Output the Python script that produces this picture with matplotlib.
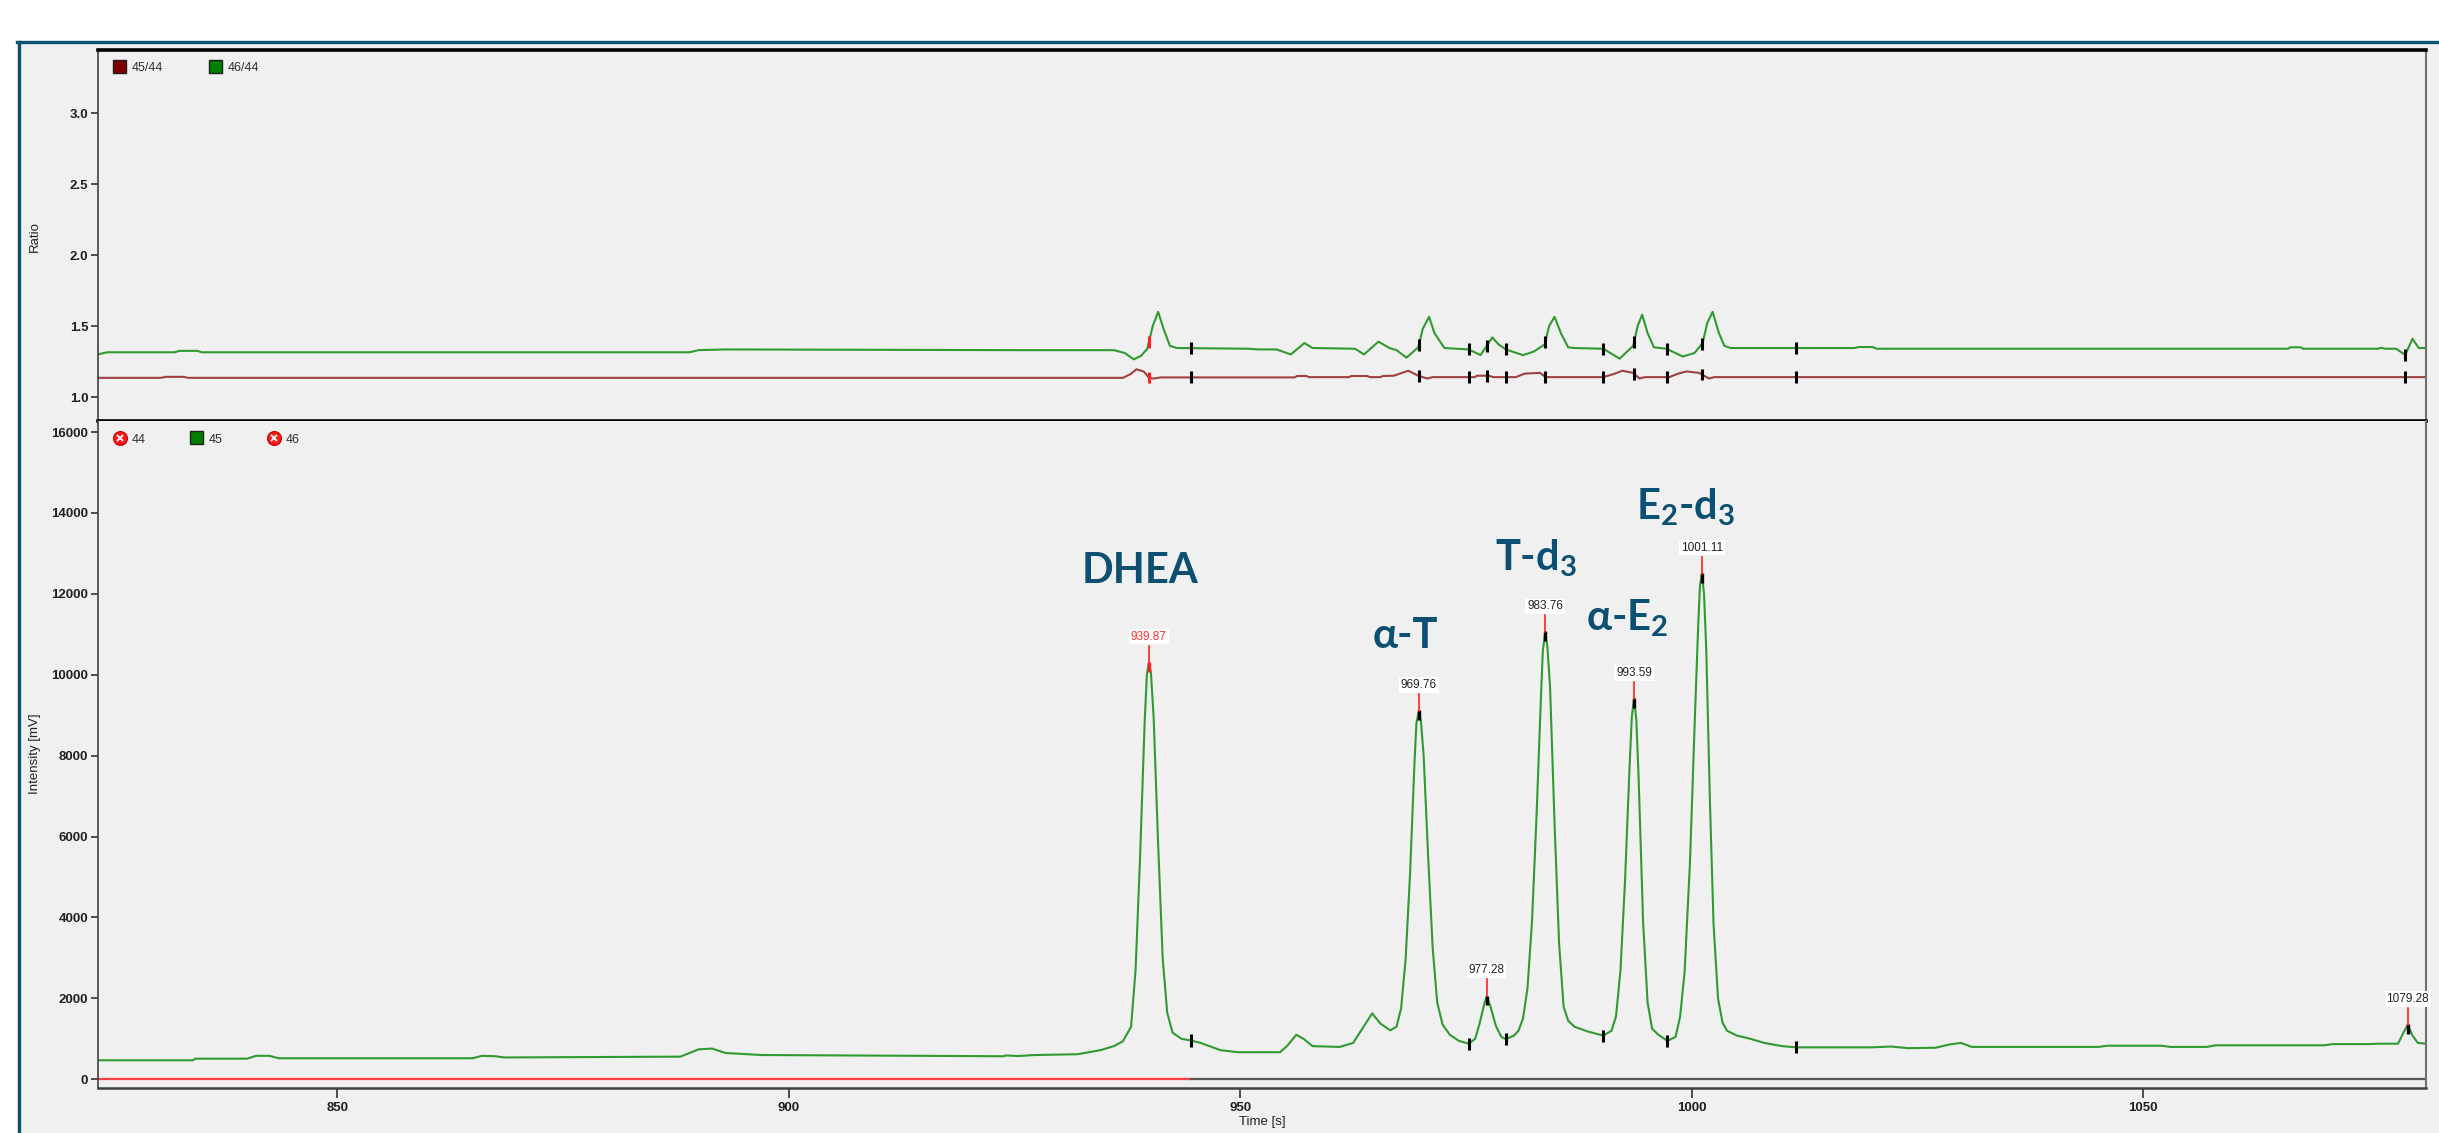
import numpy as np
import matplotlib
matplotlib.use("Agg")
from matplotlib import pyplot as plt
from matplotlib.patches import Rectangle
from matplotlib.lines import Line2D

plt.rcParams['font.family'] = ['Liberation Sans', 'DejaVu Sans']
plt.rcParams['mathtext.fontset'] = 'custom'
plt.rcParams['mathtext.rm'] = 'Lato:bold'
plt.rcParams['mathtext.it'] = 'Lato:bold'
plt.rcParams['mathtext.bf'] = 'Lato:bold'

# intensity trace, mass 45 [time s, mV]
t45 = [823.5, 834.0, 834.3, 840.0, 841.0, 842.5, 843.5, 865.0, 866.0, 867.5, 868.5, 888.0,
       890.0, 891.5, 893.0, 897.0, 923.8, 924.0, 925.4, 927.2, 932.0, 934.5, 936.0, 937.0,
       937.9, 938.4, 938.9, 939.4, 939.65, 939.87, 940.1, 940.4, 940.9, 941.4, 941.9, 942.5,
       943.5, 944.5, 945.6, 947.8, 949.7, 954.4, 955.2, 956.2, 957.0, 958.0, 961.0, 962.5,
       963.5, 964.6, 965.5, 966.6, 967.3, 967.8, 968.3, 968.8, 969.3, 969.5, 969.76, 970.0,
       970.3, 970.8, 971.3, 971.8, 972.4, 973.2, 974.2, 975.3, 976.0, 976.5, 977.0, 977.28,
       977.7, 978.3, 978.9, 979.4, 980.3, 980.8, 981.3, 981.8, 982.3, 982.8, 983.3, 983.5,
       983.76, 984.0, 984.3, 984.8, 985.3, 985.8, 986.3, 987.0, 988.5, 990.2, 991.1, 991.6,
       992.1, 992.6, 993.1, 993.35, 993.59, 993.85, 994.1, 994.6, 995.1, 995.6, 996.3, 997.3,
       998.2, 998.7, 999.2, 999.8, 1000.3, 1000.7, 1000.9, 1001.11, 1001.35, 1001.6, 1002.0,
       1002.4, 1002.9, 1003.4, 1003.9, 1005.0, 1006.5, 1008.0, 1010.0, 1011.5, 1020.0,
       1022.0, 1024.0, 1027.0, 1028.5, 1029.8, 1031.0, 1045.0, 1046.0, 1052.0, 1053.0,
       1057.0, 1058.0, 1070.0, 1071.0, 1075.0, 1076.0, 1078.2, 1078.8, 1079.28, 1079.8,
       1080.4, 1081.3]
i45 = [470, 470, 510, 510, 580, 580, 520, 520, 580, 570, 540, 560,
       740, 760, 650, 600, 570, 590, 575, 600, 620, 720, 820, 940,
       1300, 2700, 5500, 8800, 10000, 10300, 10050, 8950, 5800, 3000, 1650, 1150,
       1000, 960, 900, 720, 670, 670, 830, 1100, 1000, 820, 800, 900,
       1250, 1630, 1380, 1210, 1300, 1750, 2950, 5100, 7900, 8800, 9100, 8850,
       8000, 5500, 3250, 1900, 1350, 1100, 950, 880, 1000, 1380, 1850, 2050,
       1800, 1320, 1050, 990, 1080, 1200, 1500, 2250, 3900, 6500, 9500, 10600,
       11050, 10700, 9700, 6300, 3350, 1800, 1450, 1300, 1180, 1080, 1200, 1550,
       2700, 4900, 7700, 8950, 9400, 8900, 7500, 3900, 1900, 1250, 1100, 950,
       1050, 1550, 2650, 5400, 8700, 11200, 12200, 12500, 12000, 10600, 6900,
       3850, 2000, 1400, 1200, 1080, 1000, 900, 820, 790, 790,
       810, 770, 780, 860, 900, 800, 800, 830, 830, 800,
       800, 840, 840, 870, 870, 880, 880, 1150, 1350, 1080,
       900, 880]

# ratio traces [time s, ratio]
t4644 = [823.5, 824.5, 832.0, 832.5, 834.5, 835.0, 889.0, 890.0, 893.0, 925.0, 936.0, 937.2,
         938.2, 939.0, 939.7, 940.3, 940.9, 941.5, 942.2, 943.0, 950.9, 952.0, 954.0, 955.6,
         957.1, 958.0, 962.7, 963.7, 965.3, 966.5, 967.3, 968.4, 969.7, 970.2, 970.9, 971.5,
         972.6, 975.3, 976.6, 977.9, 978.6, 979.4, 981.3, 982.5, 983.7, 984.2, 984.8, 985.5,
         986.3, 987.0, 990.2, 992.0, 993.5, 994.0, 994.5, 995.1, 995.8, 997.2, 999.0, 1000.3,
         1001.2, 1001.7, 1002.3, 1003.0, 1003.6, 1004.3, 1018.0, 1018.5, 1020.0, 1020.5,
         1066.0, 1066.3, 1067.4, 1067.7, 1076.0, 1076.3, 1076.8, 1078.0, 1079.0, 1079.8,
         1080.5, 1081.3]
r4644 = [1.30, 1.315, 1.315, 1.325, 1.325, 1.315, 1.315, 1.33, 1.335, 1.33, 1.33, 1.31,
         1.265, 1.29, 1.34, 1.50, 1.60, 1.48, 1.36, 1.345, 1.34, 1.335, 1.335, 1.30,
         1.38, 1.345, 1.34, 1.30, 1.39, 1.345, 1.33, 1.277, 1.35, 1.48, 1.565, 1.45,
         1.345, 1.335, 1.295, 1.42, 1.37, 1.335, 1.295, 1.32, 1.37, 1.50, 1.565, 1.45,
         1.35, 1.345, 1.34, 1.27, 1.36, 1.50, 1.58, 1.45, 1.35, 1.34, 1.285, 1.31,
         1.38, 1.52, 1.60, 1.45, 1.36, 1.345, 1.345, 1.352, 1.352, 1.34,
         1.34, 1.35, 1.35, 1.34, 1.34, 1.347, 1.34, 1.34, 1.296, 1.41,
         1.345, 1.345]

t4544 = [823.5, 830.5, 831.0, 833.0, 833.5, 937.0, 937.8, 938.5, 939.3, 939.9, 940.4, 941.2,
         956.0, 956.3, 957.3, 957.6, 962.0, 962.3, 964.0, 964.4, 965.5, 965.8, 967.0, 968.6,
         969.7, 970.7, 971.3, 976.0, 976.2, 977.5, 978.0, 980.5, 981.5, 983.2, 983.8, 990.2,
         991.5, 992.3, 993.5, 994.2, 994.8, 997.5, 998.5, 999.4, 1000.8, 1001.9, 1002.5, 1081.3]
r4544 = [1.135, 1.135, 1.142, 1.142, 1.135, 1.135, 1.16, 1.195, 1.18, 1.135, 1.13, 1.138,
         1.138, 1.148, 1.148, 1.14, 1.14, 1.148, 1.148, 1.14, 1.14, 1.148, 1.15, 1.185,
         1.15, 1.13, 1.14, 1.14, 1.15, 1.15, 1.14, 1.14, 1.165, 1.17, 1.14, 1.14,
         1.165, 1.185, 1.17, 1.13, 1.14, 1.14, 1.165, 1.18, 1.17, 1.13, 1.14, 1.14]

# peak apexes (retention times) and boundaries
apex_t = [939.87, 969.76, 977.28, 983.76, 993.59, 1001.11, 1079.28]
apex_lbl = ['939.87', '969.76', '977.28', '983.76', '993.59', '1001.11', '1079.28']
bound_t = [944.5, 975.3, 979.4, 990.2, 997.3, 1011.5]

names = ['DHEA', r'α-T', r'T-d$_3$', r'α-E$_2$', r'E$_2$-d$_3$']
name_x = [938.9, 968.3, 982.7, 992.9, 999.3]
name_y = [12555, 10950, 12880, 11390, 14140]

W, H = 2439, 1133
def fx(x): return x / W
def fy(y): return 1 - y / H

green = '#2f9a2f'
fig = plt.figure(figsize=(W / 100, H / 100), dpi=100, facecolor='white')
fig.add_artist(Rectangle((fx(17), 0), 1 - fx(17), fy(41), transform=fig.transFigure,
                         facecolor='#f0f0f0', edgecolor='none', zorder=0))
fig.add_artist(Line2D([fx(17), 1], [fy(42), fy(42)], transform=fig.transFigure, color='#0d5473', lw=2.4))
fig.add_artist(Line2D([fx(18.5), fx(18.5)], [0, fy(42)], transform=fig.transFigure, color='#0d5473', lw=2.4))

ax1 = fig.add_axes([fx(98), fy(421), fx(2426) - fx(98), fy(50) - fy(421)])
ax2 = fig.add_axes([fx(98), fy(1088), fx(2426) - fx(98), fy(421) - fy(1088)])
for ax in (ax1, ax2):
    ax.set_facecolor('#f0f0f0')
    ax.set_xlim(823.5, 1081.3)
    ax.spines['left'].set_color('#404040')
    ax.spines['left'].set_linewidth(1.2)
    ax.spines['right'].set_color('#707070')
    ax.spines['right'].set_linewidth(1.5)
    ax.tick_params(axis='y', direction='out', length=5, width=1.2, color='#303030', pad=2)

# top: ratio
ax1.plot(t4544, r4544, color='#a04040', lw=1.5)
ax1.plot(t4644, r4644, color=green, lw=1.5)
for tt in apex_t[:-1] + bound_t + [1079.0]:
    col = '#ff2020' if tt == 939.87 else 'black'
    for tr, rr in ((t4644, r4644), (t4544, r4544)):
        v = np.interp(tt, tr, rr)
        ax1.plot([tt, tt], [v - 0.042, v + 0.042], color=col, lw=2.2, solid_capstyle='butt')
ax1.set_ylim(0.831, 3.444)
ax1.set_yticks([1.0, 1.5, 2.0, 2.5, 3.0])
ax1.set_yticklabels(['1.0', '1.5', '2.0', '2.5', '3.0'], fontsize=9.5, fontweight='bold', color='#202020')
ax1.set_xticks([])
ax1.spines['top'].set_linewidth(2.6)
ax1.spines['bottom'].set_linewidth(2.6)

# bottom: intensity
ax2.plot([823.5, 944.5], [0, 0], color='#ff4040', lw=1.6)
ax2.plot([944.5, 1081.3], [0, 0], color='#555555', lw=1.6)
ax2.plot(t45, i45, color=green, lw=1.5)
for tt in bound_t:
    v = np.interp(tt, t45, i45)
    ax2.plot([tt, tt], [v - 150, v + 150], color='black', lw=2.2, solid_capstyle='butt')
for tt, lb in zip(apex_t, apex_lbl):
    v = np.interp(tt, t45, i45)
    first = tt == 939.87
    ax2.plot([tt, tt], [v - 220, v + 20], color='#ff2020' if first else 'black', lw=2.4, solid_capstyle='butt')
    ax2.plot([tt, tt], [v, v + 420], color='#ff2020', lw=1.2)
    ax2.text(tt, v + 640, lb, ha='center', va='center', fontsize=8.5,
             color='#ff3030' if first else '#202020',
             bbox=dict(boxstyle='square,pad=0.15', fc='white', ec='none'))
for nm, x, y in zip(names, name_x, name_y):
    ax2.text(x, y, nm, ha='center', va='center', fontsize=30, fontweight='bold',
             family=['Lato', 'Open Sans', 'DejaVu Sans'], color='#0b5072')
ax2.set_ylim(-215, 16272)
ax2.set_yticks(range(0, 16001, 2000))
ax2.set_yticklabels([str(v) for v in range(0, 16001, 2000)], fontsize=9.5, fontweight='bold', color='#202020')
ax2.set_xticks([850, 900, 950, 1000, 1050])
ax2.set_xticklabels(['850', '900', '950', '1000', '1050'], fontsize=9.5, fontweight='bold', color='#202020')
ax2.tick_params(axis='x', direction='out', length=7, width=1.2, color='#303030', pad=3)
ax2.spines['top'].set_visible(False)
ax2.spines['bottom'].set_color('#404040')
ax2.spines['bottom'].set_linewidth(1.8)

# axis titles
fig.text(fx(35), fy(237), 'Ratio', rotation=90, ha='center', va='center', fontsize=9.5, color='#202020')
fig.text(fx(35), fy(754), 'Intensity [mV]', rotation=90, ha='center', va='center', fontsize=9.5, color='#202020')
fig.text(fx(1262), fy(1122), 'Time [s]', ha='center', va='center', fontsize=9.5, color='#202020')

# legends
def square(x, y, col):
    fig.add_artist(Rectangle((fx(x), fy(y + 13)), 13 / W, 13 / H, transform=fig.transFigure,
                             facecolor=col, edgecolor='#202020', lw=1.0, zorder=5))
def xicon(x, y):
    fig.add_artist(Line2D([fx(x)], [fy(y)], transform=fig.transFigure, marker='o', ms=10,
                          mfc='#ff1a1a', mec='#c00000', mew=0.8, zorder=5))
    fig.add_artist(Line2D([fx(x)], [fy(y)], transform=fig.transFigure, marker='x', ms=5,
                          mec='white', mew=1.3, zorder=6))

square(113, 60, '#800000')
fig.text(fx(132), fy(68), '45/44', va='center', fontsize=9, color='#303030')
square(209, 60, '#008000')
fig.text(fx(228), fy(68), '46/44', va='center', fontsize=9, color='#303030')
xicon(120, 438)
fig.text(fx(132), fy(440), '44', va='center', fontsize=9, color='#303030')
square(190, 431, '#008000')
fig.text(fx(209), fy(440), '45', va='center', fontsize=9, color='#303030')
xicon(274, 438)
fig.text(fx(286), fy(440), '46', va='center', fontsize=9, color='#303030')

fig.savefig('out.png', dpi=100, facecolor=fig.get_facecolor())
